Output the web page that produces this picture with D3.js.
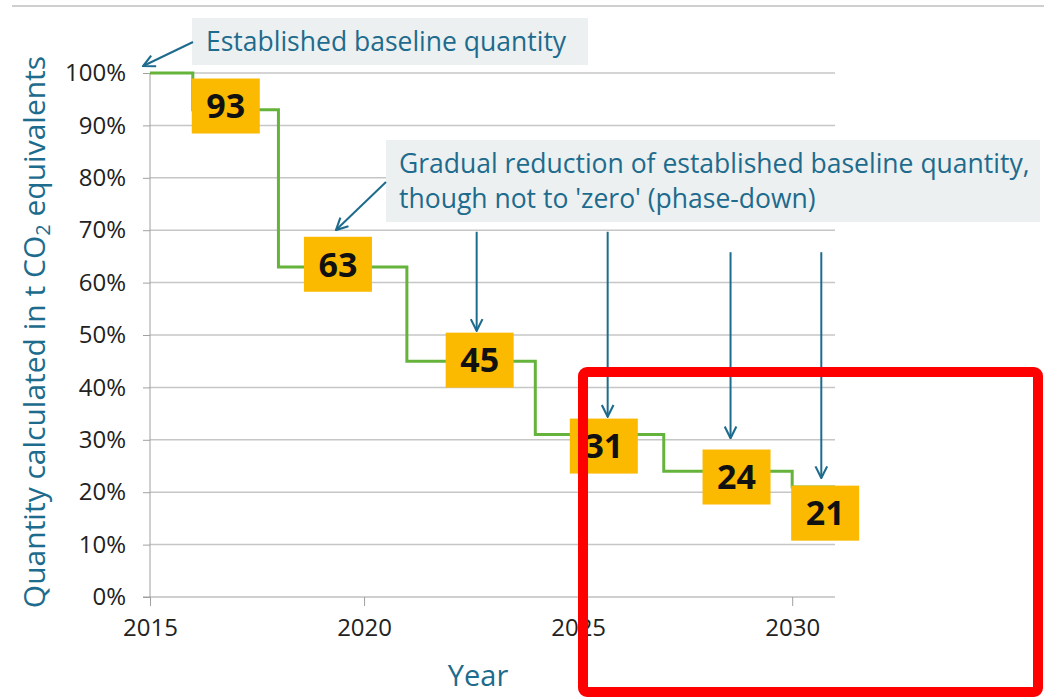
<!DOCTYPE html>
<html>
<head>
<meta charset="utf-8">
<script src="https://cdn.jsdelivr.net/npm/d3@7"></script>
<style>
  body { margin: 0; background: #fff; }
  svg { display: block; font-family: "Open Sans", sans-serif; }
  svg text { font-family: "Open Sans", sans-serif; }
</style>
</head>
<body>
<script>
// step data: quota share of baseline (%), each value starts in the given year
const years = [2015, 2016, 2018, 2021, 2024, 2027, 2030, 2031];
const quota = [100, 93, 63, 45, 31, 24, 21, 21];

// numbers in the orange boxes, and where they sit (year, % level)
const labelText = [93, 63, 45, 31, 24, 21];
const labelYear = [2016.77, 2019.39, 2022.7, 2025.6, 2028.7, 2030.77];
const labelLevel = [93.7, 63.5, 45.2, 28.8, 22.9, 16.0];

// vertical arrows: year, from %, to %
const arrowYear = [2022.63, 2025.69, 2028.56, 2030.68];
const arrowFrom = [69.7, 69.7, 65.8, 65.8];
const arrowTo = [50.8, 34.4, 30.3, 22.7];

const yTicks = d3.range(0, 101, 10);
const xTicks = [2015, 2020, 2025, 2030];

const teal = "#1d6b8d";

let svgWidth = 1044;
let svgHeight = 700;

let svg = d3.select("body")
    .append("svg")
    .attr("width", svgWidth)
    .attr("height", svgHeight);

let x = d3.scaleLinear().domain([2015, 2031]).range([150, 835]);
let y = d3.scaleLinear().domain([0, 100]).range([597, 73]);

// thin line along the top
svg.append("line")
    .attr("x1", 12).attr("x2", svgWidth)
    .attr("y1", 6).attr("y2", 6)
    .attr("stroke", "#cfcfcf").attr("stroke-width", 2);

// gridlines
svg.append("g").selectAll("line")
    .data(yTicks.filter(d => d > 0))
    .enter().append("line")
    .attr("x1", x(2015)).attr("x2", x(2031))
    .attr("y1", d => y(d)).attr("y2", d => y(d))
    .attr("stroke", "#c6c6c6").attr("stroke-width", 1.5);

// y axis
let yAxis = svg.append("g")
    .attr("transform", `translate(${x(2015)},0)`)
    .call(d3.axisLeft(y).tickValues(yTicks).tickFormat(d => d + "%").tickSize(7).tickPadding(17));
yAxis.attr("font-family", null);
yAxis.select(".domain").attr("stroke", "#a0a0a0").attr("d", `M0,${y(0)}V${y(100)}`);
yAxis.selectAll(".tick line").attr("stroke", "#a0a0a0");
yAxis.selectAll("text").attr("font-size", 24).attr("fill", "#222");

// x axis
let xAxis = svg.append("g")
    .attr("transform", `translate(0,${y(0)})`)
    .call(d3.axisBottom(x).tickValues(xTicks).tickFormat(d3.format("d")).tickSize(9).tickPadding(13));
xAxis.attr("font-family", null);
xAxis.select(".domain").attr("stroke", "#a0a0a0").attr("d", `M${x(2015) - 7},0H${x(2031)}`);
xAxis.selectAll(".tick line").attr("stroke", "#a0a0a0");
xAxis.selectAll("text").attr("font-size", 24).attr("fill", "#222");

// axis titles
let yTitle = svg.append("text")
    .attr("transform", "translate(45,332) rotate(-90)")
    .attr("text-anchor", "middle")
    .attr("font-size", 30)
    .attr("fill", teal);
yTitle.append("tspan").text("Quantity calculated in t CO");
yTitle.append("tspan").attr("font-size", 20).attr("dy", 5).text("2");
yTitle.append("tspan").attr("dy", -5).text(" equivalents");

svg.append("text")
    .attr("x", 478).attr("y", 686)
    .attr("text-anchor", "middle")
    .attr("font-size", 29)
    .attr("fill", teal)
    .text("Year");

// step line
let stepLine = d3.line()
    .x((d, i) => x(years[i]))
    .y(d => y(d))
    .curve(d3.curveStepAfter);

svg.append("path")
    .datum(quota)
    .attr("d", stepLine)
    .attr("fill", "none")
    .attr("stroke", "#66b33c")
    .attr("stroke-width", 3);

// orange value boxes
let boxW = 68, boxH = 55;
let boxes = svg.append("g").selectAll("g")
    .data(labelText)
    .enter().append("g")
    .attr("transform", (d, i) => `translate(${x(labelYear[i])},${y(labelLevel[i])})`);

boxes.append("rect")
    .attr("x", -boxW / 2).attr("y", -boxH / 2)
    .attr("width", boxW).attr("height", boxH)
    .attr("fill", "#fbb900");

boxes.append("text")
    .attr("text-anchor", "middle")
    .attr("dy", "0.36em")
    .attr("font-size", 34)
    .attr("font-weight", "bold")
    .attr("fill", "#111")
    .text(d => d);

// arrow marker
svg.append("defs").append("marker")
    .attr("id", "head")
    .attr("viewBox", "0 0 12 12")
    .attr("refX", 11).attr("refY", 6)
    .attr("markerWidth", 14).attr("markerHeight", 14)
    .attr("markerUnits", "userSpaceOnUse")
    .attr("orient", "auto")
    .append("path")
    .attr("d", "M1,1L11,6L1,11")
    .attr("fill", "none")
    .attr("stroke", teal)
    .attr("stroke-width", 1.8);

svg.append("g").selectAll("line")
    .data(arrowYear)
    .enter().append("line")
    .attr("x1", d => x(d)).attr("x2", d => x(d))
    .attr("y1", (d, i) => y(arrowFrom[i]))
    .attr("y2", (d, i) => y(arrowTo[i]))
    .attr("stroke", teal).attr("stroke-width", 2)
    .attr("marker-end", "url(#head)");

// annotation boxes
svg.append("rect")
    .attr("x", 192).attr("y", 18).attr("width", 396).attr("height", 47)
    .attr("fill", "#edf0f0");
svg.append("text")
    .attr("x", 206).attr("y", 51)
    .attr("font-size", 26.5).attr("fill", teal)
    .text("Established baseline quantity");

svg.append("line")
    .attr("x1", 193).attr("y1", 42)
    .attr("x2", x(2014.84)).attr("y2", 66)
    .attr("stroke", teal).attr("stroke-width", 2)
    .attr("marker-end", "url(#head)");

svg.append("rect")
    .attr("x", 386).attr("y", 140).attr("width", 654).attr("height", 82)
    .attr("fill", "#edf0f0");
let note2 = svg.append("text")
    .attr("font-size", 26.5).attr("fill", teal);
note2.append("tspan").attr("x", 399).attr("y", 173)
    .text("Gradual reduction of established baseline quantity,");
note2.append("tspan").attr("x", 399).attr("y", 208)
    .text("though not to 'zero' (phase-down)");

svg.append("line")
    .attr("x1", 386).attr("y1", 182)
    .attr("x2", 336).attr("y2", 230)
    .attr("stroke", teal).attr("stroke-width", 2)
    .attr("marker-end", "url(#head)");

// red highlight frame
svg.append("rect")
    .attr("x", 583).attr("y", 372)
    .attr("width", 455).attr("height", 320)
    .attr("rx", 4)
    .attr("fill", "none")
    .attr("stroke", "#ff0000")
    .attr("stroke-width", 10);
</script>
</body>
</html>
